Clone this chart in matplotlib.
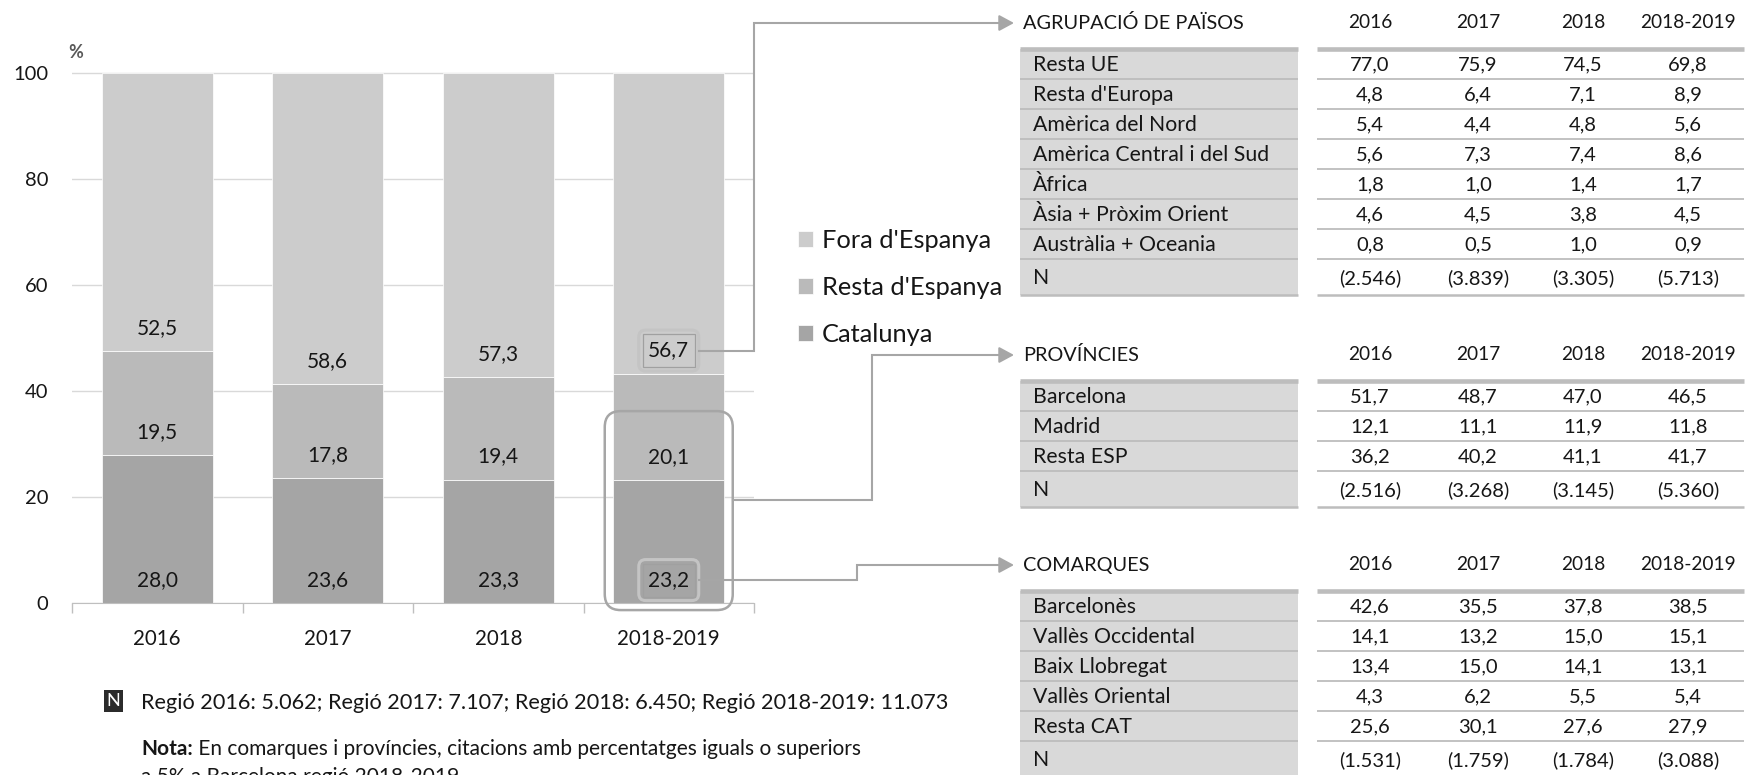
import numpy as np
import matplotlib.pyplot as plt
from matplotlib.patches import FancyBboxPatch, Rectangle

W, H = 1746, 775

periods = ['2016', '2017', '2018', '2018-2019']
series = ['Catalunya', "Resta d'Espanya", "Fora d'Espanya"]
catalunya = [28.0, 23.6, 23.3, 23.2]
resta_espanya = [19.5, 17.8, 19.4, 20.1]
fora_espanya = [52.5, 58.6, 57.3, 56.7]

paisos_rows = ['Resta UE', "Resta d'Europa", 'Amèrica del Nord', 'Amèrica Central i del Sud',
               'Àfrica', 'Àsia + Pròxim Orient', 'Austràlia + Oceania']
paisos_vals = [[77.0, 75.9, 74.5, 69.8], [4.8, 6.4, 7.1, 8.9], [5.4, 4.4, 4.8, 5.6],
               [5.6, 7.3, 7.4, 8.6], [1.8, 1.0, 1.4, 1.7], [4.6, 4.5, 3.8, 4.5],
               [0.8, 0.5, 1.0, 0.9]]
paisos_n = [2546, 3839, 3305, 5713]

provincies_rows = ['Barcelona', 'Madrid', 'Resta ESP']
provincies_vals = [[51.7, 48.7, 47.0, 46.5], [12.1, 11.1, 11.9, 11.8], [36.2, 40.2, 41.1, 41.7]]
provincies_n = [2516, 3268, 3145, 5360]

comarques_rows = ['Barcelonès', 'Vallès Occidental', 'Baix Llobregat', 'Vallès Oriental', 'Resta CAT']
comarques_vals = [[42.6, 35.5, 37.8, 38.5], [14.1, 13.2, 15.0, 15.1], [13.4, 15.0, 14.1, 13.1],
                  [4.3, 6.2, 5.5, 5.4], [25.6, 30.1, 27.6, 27.9]]
comarques_n = [1531, 1759, 1784, 3088]

n_regio = [5062, 7107, 6450, 11073]


def dec(v):
    return f'{v:.1f}'.replace('.', ',')


def thousands(v):
    return f'{v:,}'.replace(',', '.')


plt.rcParams['font.family'] = ['Lato', 'DejaVu Sans']
TXT = '#161616'
LINE = '#a6a6a6'

fig = plt.figure(figsize=(W / 100, H / 100), dpi=100)

# ---- stacked bars ----
px_unit = 5.3
ax_top = 603 - 101 * px_unit
ax = fig.add_axes([72 / W, 1 - 603 / H, 682 / W, (603 - ax_top) / H])
x = np.arange(len(periods))
colors = ['#a5a5a5', '#bababa', '#cccccc']
label_off = 16.5  # points above segment base
bottom = np.zeros(len(periods))
bases = []
for vals, c, name in zip([catalunya, resta_espanya, fora_espanya], colors, series):
    ax.bar(x, vals, 0.65, bottom=bottom, color=c, label=name, edgecolor='white',
           linewidth=0.5, zorder=2)
    for xi, b, v in zip(x, bottom, vals):
        ax.annotate(dec(v), (xi, b), xytext=(0, label_off), textcoords='offset points',
                    ha='center', va='center', fontsize=15, color=TXT, zorder=4)
    bases.append(bottom.copy())
    bottom = bottom + np.array(vals)

ax.set_xlim(-0.5, len(periods) - 0.5)
ax.set_ylim(0, 101)
ax.set_yticks(range(0, 101, 20))
ax.set_xticks(x)
ax.set_xticklabels(periods)
ax.set_xticks(np.arange(-0.5, len(periods)), minor=True)
ax.tick_params(axis='x', which='major', length=0, pad=19, labelsize=14.8, labelcolor=TXT)
ax.tick_params(axis='x', which='minor', length=7, color='#bfbfbf', width=1)
ax.tick_params(axis='y', length=0, pad=17, labelsize=14.5, labelcolor=TXT)
ax.yaxis.grid(True, color='#d9d9d9', lw=1)
ax.set_axisbelow(True)
for s in ['top', 'right', 'left']:
    ax.spines[s].set_visible(False)
ax.spines['bottom'].set_color('#bfbfbf')
ax.text(0.005, (603 - 53) / (603 - ax_top), '%', transform=ax.transAxes, ha='center',
        va='center', fontsize=13, color='#595959', fontweight='bold')

handles, labels = ax.get_legend_handles_labels()
ax.legend(handles[::-1], labels[::-1], loc='upper left', bbox_to_anchor=(798 / W, 1 - 229 / H),
          bbox_transform=fig.transFigure, frameon=False, fontsize=18.3, borderpad=0,
          borderaxespad=0, handlelength=0.59, handleheight=0.59, handletextpad=0.35,
          labelspacing=0.95, labelcolor=TXT)

# ---- overlay in pixel coordinates (top origin) ----
ov = fig.add_axes([0, 0, 1, 1])
ov.set_xlim(0, W)
ov.set_ylim(H, 0)
ov.axis('off')


def to_px(xd, yd, dy_pt=0.0):
    dx, dyd = ax.transData.transform((xd, yd))
    return dx, H - (dyd + dy_pt * 100 / 72)


last = len(periods) - 1
cx56, cy56 = to_px(last, bases[2][last], label_off)
cx20, cy20 = to_px(last, bases[1][last], label_off)
cx23, cy23 = to_px(last, bases[0][last], label_off)
ax_right, _ = to_px(len(periods) - 0.5, 0)


def label_box(cx, cy):
    w, h = 56, 37
    ov.add_patch(FancyBboxPatch((cx - w / 2, cy - h / 2), w, h,
                                boxstyle='round,pad=2,rounding_size=7', fc='none',
                                ec='#c4c4c4', lw=2.2, zorder=5))
    ov.add_patch(Rectangle((cx - w / 2 + 2, cy - h / 2 + 2), w - 4, h - 4, fc='none',
                           ec='#a0a0a0', lw=0.9, zorder=5))
    return cx + w / 2 + 2


r56 = label_box(cx56, cy56)
r23 = label_box(cx23, cy23)
big_l, big_r = cx23 - 64, cx23 + 64
big_t, big_b = cy20 - 46, cy23 + 30
ov.add_patch(FancyBboxPatch((big_l, big_t), big_r - big_l, big_b - big_t,
                            boxstyle='round,pad=0,rounding_size=16', fc='none',
                            ec=LINE, lw=1.8, zorder=5))

title_y = [23, 355, 565]
tip_x = 1014
conn_lw = 1.5


def connector(x0, y0, xmid, ty):
    ov.plot([x0, xmid, xmid, tip_x - 10], [y0, y0, ty, ty], color=LINE, lw=conn_lw,
            solid_joinstyle='miter', zorder=5)
    ov.annotate('', xy=(tip_x, ty), xytext=(tip_x - 14, ty),
                arrowprops=dict(arrowstyle='-|>,head_length=0.5,head_width=0.27',
                                color=LINE, lw=conn_lw, shrinkA=0, shrinkB=0,
                                mutation_scale=18), zorder=5)


connector(r56, cy56, ax_right, title_y[0])
_, y_c2 = to_px(last, 19.5)
connector(big_r, y_c2, 872, title_y[1])
connector(r23, cy23, 857, title_y[2])

# ---- tables ----
col_x = [1370, 1478, 1583, 1688]
lab_l, lab_r = 1020, 1298
val_l, val_r = 1317, 1744
row_h, n_h = 30, 36
LFS, VFS = 15.3, 14.5


def draw_table(top, title, rows, vals, n_vals):
    ov.text(1023, top, title, ha='left', va='center', fontsize=14.3, color=TXT)
    for cx, p in zip(col_x, periods):
        ov.text(cx, top, p, ha='center', va='center', fontsize=13.8, color=TXT)
    y0 = top + 26
    nr = len(rows)
    y_end = y0 + nr * row_h + n_h
    ov.add_patch(Rectangle((lab_l, y0), lab_r - lab_l, y_end - y0, fc='#d9d9d9', ec='none'))
    seps = [y0 + row_h * (i + 1) for i in range(nr)]
    for xa, xb in [(lab_l, lab_r), (val_l, val_r)]:
        ov.hlines(y0, xa, xb, color='#bdbdbd', lw=3.3)
        ov.hlines(seps, xa, xb, color='#bdbdbd', lw=1.3)
        ov.hlines(y_end, xa, xb, color='#bdbdbd', lw=1.8)
    for i, (name, rv) in enumerate(zip(rows, vals)):
        cy = y0 + row_h * i + 16
        ov.text(1033, cy, name, ha='left', va='center', fontsize=LFS, color=TXT)
        for cx, v in zip(col_x, rv):
            ov.text(cx, cy, dec(v), ha='center', va='center', fontsize=VFS, color=TXT)
    cy = y0 + row_h * nr + 19
    ov.text(1033, cy, 'N', ha='left', va='center', fontsize=LFS, color=TXT)
    for cx, v in zip(col_x, n_vals):
        ov.text(cx, cy, f'({thousands(v)})', ha='center', va='center', fontsize=VFS, color=TXT)


draw_table(title_y[0], 'AGRUPACIÓ DE PAÏSOS', paisos_rows, paisos_vals, paisos_n)
draw_table(title_y[1], 'PROVÍNCIES', provincies_rows, provincies_vals, provincies_n)
draw_table(title_y[2], 'COMARQUES', comarques_rows, comarques_vals, comarques_n)

# ---- footer ----
ov.text(113.5, 701, 'N', ha='center', va='center', fontsize=13, color='white',
        bbox=dict(boxstyle='square,pad=0.17', fc='#2b2b2b', ec='none'))
regio_txt = '; '.join(f'Regió {p}: {thousands(n)}' for p, n in zip(periods, n_regio))
ov.text(141, 703, regio_txt, ha='left', va='center', fontsize=15.6, color=TXT)
nota = ov.text(141, 749, 'Nota:', ha='left', va='center', fontsize=15.0, color=TXT,
               fontweight='bold')
ov.annotate(' En comarques i províncies, citacions amb percentatges iguals o superiors',
            xy=(1, 0.5), xycoords=nota, ha='left', va='center', fontsize=15.0, color=TXT)
ov.text(141, 777, 'a 5% a Barcelona regió 2018-2019.', ha='left', va='center', fontsize=15.0,
        color=TXT)

fig.savefig('out.png', dpi=100)
